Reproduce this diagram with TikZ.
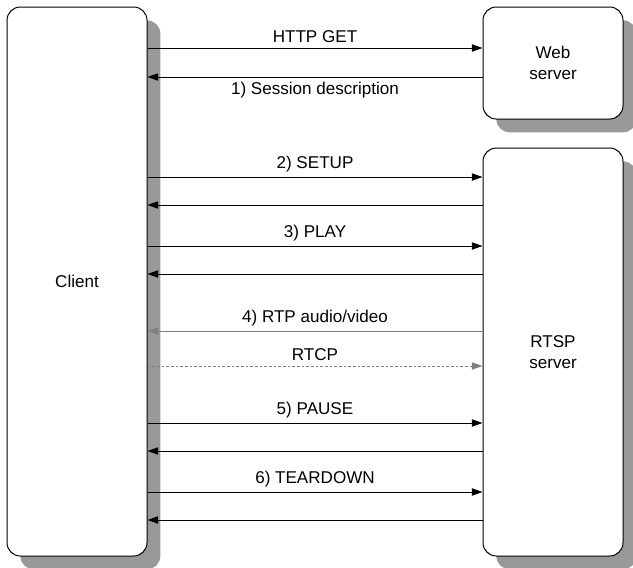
\documentclass[tikz,border=0pt]{standalone}
\usepackage{fontspec}
\setmainfont{Liberation Sans}
\usetikzlibrary{arrows.meta,shadows}

\tikzset{
  box/.style={draw, line width=0.75pt, rounded corners=10pt, fill=white,
    inner sep=0pt, minimum width=105pt, align=center,
    drop shadow={shadow xshift=10pt, shadow yshift=-10pt, fill=black!40, opacity=1}},
  msg/.style={line width=0.75pt, -{Triangle[length=8pt,width=5.5pt]}},
  media/.style={msg, draw=black!50},
  ctrl/.style={media, dash pattern=on 2pt off 1.5pt}
}

\begin{document}
\begin{tikzpicture}[x=0.75pt, y=-0.75pt, font=\fontsize{12.8}{16}\selectfont]
	\useasboundingbox (0,0) rectangle (633,568);
	% boxes
	\node[box, minimum height=411.75pt] (client) at (77,281.5) {Client};
	\node[box, minimum height=84pt] (web) at (553,63) {Web\\server};
	\node[box, minimum height=306pt] (rtsp) at (553,352) {RTSP\\server};
	% message levels
	\coordinate (get) at (0,48);   \coordinate (sdp) at (0,77);
	\coordinate (setup) at (0,177); \coordinate (setupok) at (0,205);
	\coordinate (play) at (0,246);  \coordinate (playok) at (0,274);
	\coordinate (rtp) at (0,331);   \coordinate (rtcp) at (0,366);
	\coordinate (pause) at (0,423); \coordinate (pauseok) at (0,451);
	\coordinate (tear) at (0,492);  \coordinate (tearok) at (0,520);
	% web server
	\draw[msg] (client.east |- get) -- node[above]{HTTP GET} (web.west |- get);
	\draw[msg] (web.west |- sdp) -- node[below]{1) Session description} (client.east |- sdp);
	% rtsp session
	\draw[msg] (client.east |- setup) -- node[above]{2) SETUP} (rtsp.west |- setup);
	\draw[msg] (rtsp.west |- setupok) -- (client.east |- setupok);
	\draw[msg] (client.east |- play) -- node[above]{3) PLAY} (rtsp.west |- play);
	\draw[msg] (rtsp.west |- playok) -- (client.east |- playok);
	\draw[media] (rtsp.west |- rtp) -- node[above, text=black]{4) RTP audio/video} (client.east |- rtp);
	\draw[ctrl] (client.east |- rtcp) -- node[above, text=black]{RTCP} (rtsp.west |- rtcp);
	\draw[msg] (client.east |- pause) -- node[above]{5) PAUSE} (rtsp.west |- pause);
	\draw[msg] (rtsp.west |- pauseok) -- (client.east |- pauseok);
	\draw[msg] (client.east |- tear) -- node[above]{6) TEARDOWN} (rtsp.west |- tear);
	\draw[msg] (rtsp.west |- tearok) -- (client.east |- tearok);
\end{tikzpicture}
\end{document}
